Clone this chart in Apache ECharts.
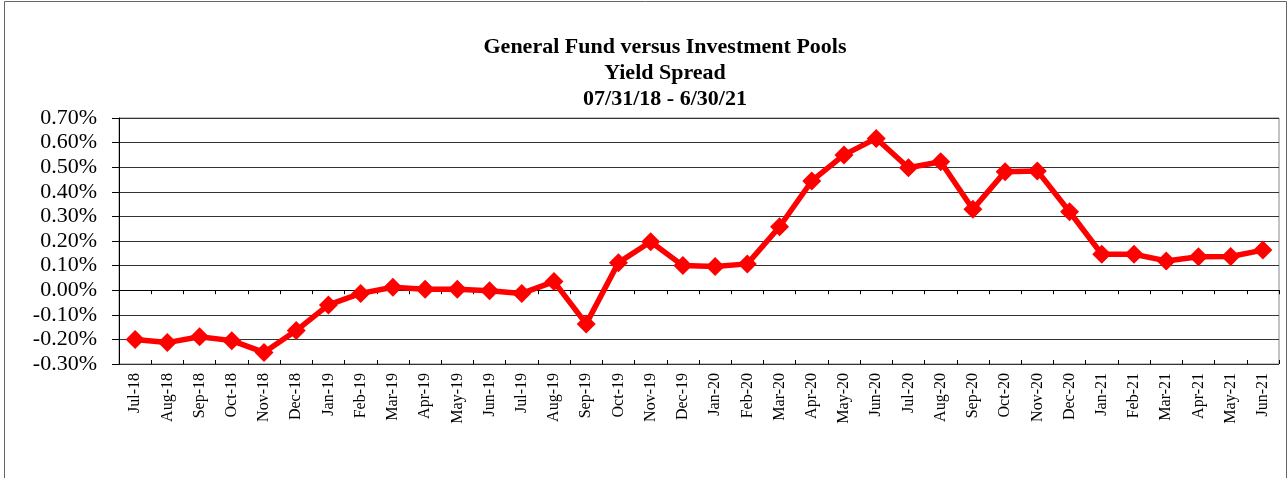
<!DOCTYPE html>
<html>
<head>
<meta charset="utf-8">
<script src="https://cdn.jsdelivr.net/npm/echarts@6/dist/echarts.min.js"></script>
<style>
    html, body { margin: 0; padding: 0; background: #fff; }
    #chart1 { width: 1288px; height: 478px; }
</style>
</head>
<body>
<div id="chart1"></div>
<script>
    var months = ['Jul-18','Aug-18','Sep-18','Oct-18','Nov-18','Dec-18','Jan-19','Feb-19','Mar-19','Apr-19','May-19','Jun-19',
        'Jul-19','Aug-19','Sep-19','Oct-19','Nov-19','Dec-19','Jan-20','Feb-20','Mar-20','Apr-20','May-20','Jun-20',
        'Jul-20','Aug-20','Sep-20','Oct-20','Nov-20','Dec-20','Jan-21','Feb-21','Mar-21','Apr-21','May-21','Jun-21'];
    // spread in percent
    var spread = [-0.20, -0.213, -0.189, -0.205, -0.253, -0.164, -0.06, -0.013, 0.012, 0.004, 0.004, -0.002,
        -0.013, 0.035, -0.137, 0.112, 0.197, 0.100, 0.096, 0.107, 0.258, 0.444, 0.550, 0.617,
        0.498, 0.522, 0.329, 0.482, 0.485, 0.319, 0.146, 0.146, 0.119, 0.136, 0.137, 0.163];
    var titleLines = ['General Fund versus Investment Pools', 'Yield Spread', '07/31/18 - 6/30/21'];

    var serif = "'Liberation Serif', 'Times New Roman', serif";
    var chart1 = echarts.init(document.getElementById('chart1'));
    var option1 = {
        animation: false,
        title: {
            text: titleLines.join('\n'),
            left: 660,
            top: 29,
            textAlign: 'center',
            textStyle: {
                fontFamily: serif,
                fontWeight: 'bold',
                fontSize: 22,
                lineHeight: 26,
                color: '#000'
            }
        },
        graphic: [{
            type: 'rect',
            shape: { x: 4.5, y: 1.5, width: 1282, height: 520 },
            style: { fill: 'none', stroke: '#666', lineWidth: 1 },
            silent: true
        }],
        grid: {
            left: 119,
            right: 9,
            top: 118,
            bottom: 114,
            show: true,
            borderColor: '#888',
            borderWidth: 1
        },
        xAxis: [
            {
                // labels along the bottom
                type: 'category',
                data: months,
                position: 'bottom',
                axisLine: { show: false, onZero: false },
                axisTick: { show: false },
                axisLabel: {
                    rotate: 90,
                    margin: 9,
                    interval: 0,
                    fontFamily: serif,
                    fontSize: 16,
                    color: '#000'
                }
            },
            {
                // zero line, ticks below
                type: 'category',
                data: months,
                position: 'bottom',
                axisLine: { show: true, onZero: true, lineStyle: { color: '#000', width: 1 } },
                axisTick: { show: true, length: 4, interval: 0, lineStyle: { color: '#000' } },
                axisLabel: { show: false }
            },
            {
                // ticks above the zero line
                type: 'category',
                data: months,
                position: 'bottom',
                axisLine: { show: false, onZero: true },
                axisTick: { show: true, inside: true, length: 4, interval: 0, lineStyle: { color: '#000' } },
                axisLabel: { show: false }
            }
        ],
        yAxis: {
            type: 'value',
            min: -0.3,
            max: 0.7,
            interval: 0.1,
            axisLine: { show: true, lineStyle: { color: '#000', width: 1 } },
            axisTick: { show: true, length: 7, lineStyle: { color: '#000' } },
            splitLine: { show: true, lineStyle: { color: '#333', width: 1 } },
            axisLabel: {
                margin: 22,
                fontFamily: serif,
                fontSize: 22,
                color: '#000',
                formatter: function (v) {
                    return v.toFixed(2) + '%';
                }
            }
        },
        series: [
            {
                type: 'line',
                data: spread,
                xAxisIndex: 0,
                symbol: 'diamond',
                symbolSize: 19,
                lineStyle: { color: '#ff0000', width: 5.5 },
                itemStyle: { color: '#ff0000' }
            }
        ]
    };
    chart1.setOption(option1);
</script>
</body>
</html>
